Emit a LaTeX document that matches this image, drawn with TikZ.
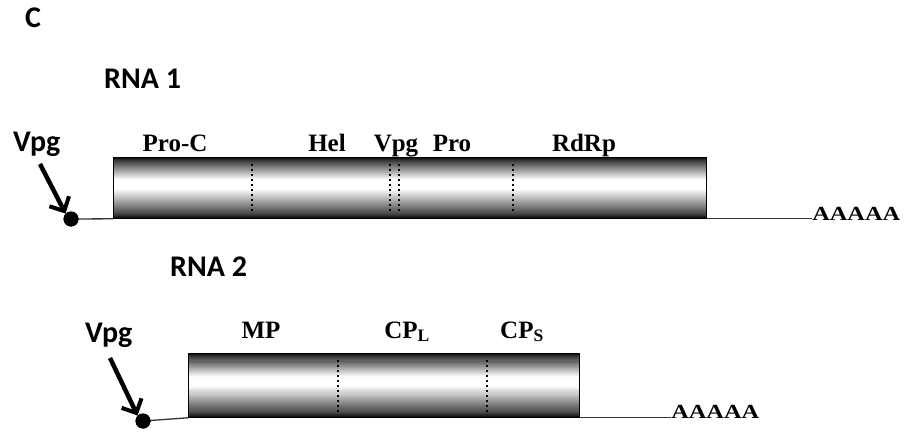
\documentclass[tikz,border=0pt]{standalone}
\usepackage{fontspec}
\setmainfont{Liberation Serif}
\newfontfamily\calibfont{Carlito}
\usetikzlibrary{arrows.meta}
\newcommand\cylstripes[4]{% x, y (top), width, height
  \foreach \i in {0,...,59}{%
    \pgfmathsetmacro\ct{(\i+0.5)/60}%
    \pgfmathsetmacro\dk{max(0,min(100,\ct<0.07 ? 100-357*\ct : (\ct<0.38 ? 75-242*(\ct-0.07) : (\ct<0.52 ? 0 : (\ct<0.93 ? 175*(\ct-0.52) : 72+330*(\ct-0.93))))))}%
    \fill[black!\dk] (#1,{#2+\i*#4/60}) rectangle (#1+#3,{#2+(\i+1.1)*#4/60});
  }}
\tikzset{
  lbl/.style={inner sep=0pt, font=\calibfont\bfseries\fontsize{30}{33}\selectfont, anchor=base west},
  glbl/.style={inner sep=0pt, font=\bfseries\fontsize{25}{28}\selectfont, anchor=base},
  aaa/.style={inner sep=0pt, font=\bfseries\fontsize{20}{22}\selectfont, xscale=1.22, anchor=base west},
  cyl/.style={draw=black, line width=0.8pt, inner sep=0pt, anchor=north west},
  rnaline/.style={draw=black!80, line width=1.3pt},
  dotend/.style={circle, fill=black, minimum size=15pt, inner sep=0pt},
  sep/.style={draw=black, line width=1.6pt, dash pattern=on 1.6pt off 3.4pt},
  vpgarrow/.style={line width=4.5pt, -{Straight Barb[length=11pt, width=22pt, line width=4pt]}}
}
\begin{document}
\begin{tikzpicture}[x=1pt, y=-1pt]
\useasboundingbox[fill=white] (0,0) rectangle (908,433);
% titles
\node[lbl, font=\calibfont\bfseries\fontsize{30}{33}\selectfont] (c) at (25,28) {C};
\node[lbl] (rna1) at (104,89) {RNA 1};
\node[lbl] (rna2) at (170,276) {RNA 2};
% RNA 1
\cylstripes{113}{157}{593}{61}
\node[cyl, minimum width=593pt, minimum height=61pt] (c1) at (113,157) {};
\node[dotend] (dot1) at (71,219) {};
\node[aaa] (aaa1) at (812,220) {AAAAA};
\draw[rnaline] (dot1.center) -- (c1.south west);
\draw[rnaline] (c1.south east) -- (c1.south east -| aaa1.west);
\node[dotend] at (dot1) {};
\draw[sep] (252,164) -- (252,213);
\draw[sep] (390,164) -- (390,213);
\draw[sep] (399,164) -- (399,213);
\draw[sep] (513,164) -- (513,213);
\node[glbl] (proc) at (175,152) {Pro-C};
\node[glbl] (hel) at (327,152) {Hel};
\node[glbl] (vpgp) at (396,152) {Vpg};
\node[glbl] (pro) at (452,152) {Pro};
\node[glbl] (rdrp) at (584,152) {RdRp};
\node[lbl] (vpg1) at (13,152) {Vpg};
\coordinate (a1s) at (40,164);
\draw[vpgarrow] (a1s) -- (dot1.north west);
% RNA 2
\cylstripes{188}{353}{391}{64}
\node[cyl, minimum width=391pt, minimum height=64pt] (c2) at (188,353) {};
\node[dotend] (dot2) at (143,421) {};
\node[aaa] (aaa2) at (671,418) {AAAAA};
\draw[rnaline] (dot2.center) -- (c2.south west);
\draw[rnaline] (c2.south east) -- (c2.south east -| aaa2.west);
\node[dotend] at (dot2) {};
\draw[sep] (338,360) -- (338,412);
\draw[sep] (487,360) -- (487,412);
\node[glbl] (mp) at (261,338) {MP};
\node[glbl] (cpl) at (407,338) {CP\textsubscript{L}};
\node[glbl] (cps) at (522,338) {CP\textsubscript{S}};
\node[lbl] (vpg2) at (85,342) {Vpg};
\coordinate (a2s) at (110,358);
\draw[vpgarrow] (a2s) -- (dot2.north west);
\end{tikzpicture}
\end{document}
